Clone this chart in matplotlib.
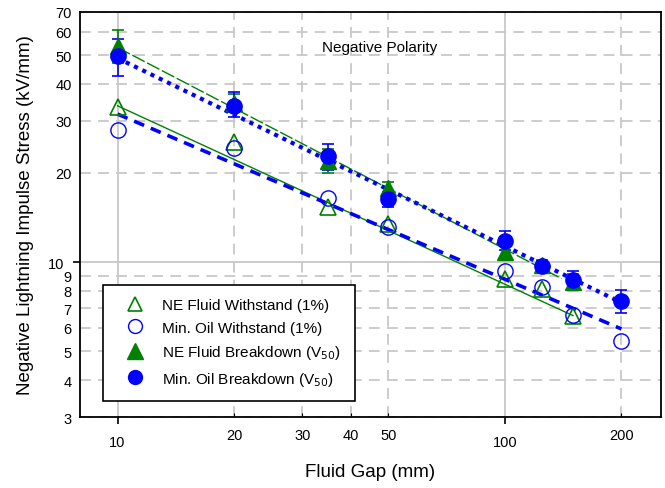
import matplotlib
matplotlib.use('Agg')
import matplotlib.pyplot as plt
from matplotlib.lines import Line2D
from matplotlib.ticker import FixedLocator, FixedFormatter

plt.rcParams['font.family'] = ['Liberation Sans', 'DejaVu Sans']

# gap values (mm)
gap_ne = [10, 20, 35, 50, 100, 125, 150]
gap_oil = [10, 20, 35, 50, 100, 125, 150, 200]

# withstand (1%) stress, kV/mm
ne_withstand = [33.5, 25.5, 15.3, 13.4, 8.8, 8.1, 6.6]
oil_withstand = [28.0, 24.3, 16.5, 13.1, 9.3, 8.25, 6.65, 5.4]

# breakdown (V50) stress with error bar ends
ne_breakdown = [53.5, 34.5, 22.0, 17.8, 10.8, 9.8, 8.6]
ne_bd_low = [47.0, 32.0, 20.0, 16.6, 10.3, 9.4, 8.1]
ne_bd_high = [60.5, 37.0, 24.0, 18.7, 11.3, 10.2, 9.1]
oil_breakdown = [49.5, 33.7, 22.8, 16.3, 11.8, 9.7, 8.7, 7.4]
oil_bd_low = [42.5, 30.8, 20.5, 15.3, 11.0, 9.3, 8.1, 6.75]
oil_bd_high = [56.5, 37.4, 25.1, 17.3, 12.7, 10.1, 9.3, 8.05]

# fitted lines, end points
fit_ne_w_x, fit_ne_w_y = [10, 150], [33.7, 6.6]
fit_oil_w_x, fit_oil_w_y = [10, 200], [31.6, 5.95]
fit_ne_b_x, fit_ne_b_y = [10, 140], [53.0, 8.8]
fit_oil_b_x, fit_oil_b_y = [10, 200], [48.8, 7.3]

xticks = [10, 20, 30, 40, 50, 100, 200]
yticks = [3, 4, 5, 6, 7, 8, 9, 10, 20, 30, 40, 50, 60, 70]

green = '#008000'
blue = '#0000ff'

fig = plt.figure(figsize=(6.65, 4.89), dpi=100)
ax = fig.add_axes([0.1203, 0.145, 0.8737, 0.829])
ax.set_xscale('log')
ax.set_yscale('log')
ax.set_xlim(8.0, 253)
ax.set_ylim(3, 70)

# grid: solid at decades, dashed elsewhere
ax.xaxis.set_major_locator(FixedLocator([10, 100]))
ax.xaxis.set_minor_locator(FixedLocator([t for t in xticks if t not in (10, 100)]))
ax.yaxis.set_major_locator(FixedLocator([10]))
ax.yaxis.set_minor_locator(FixedLocator([t for t in yticks if t != 10]))
ax.xaxis.set_major_formatter(FixedFormatter(['10', '100']))
ax.xaxis.set_minor_formatter(FixedFormatter([str(t) for t in xticks if t not in (10, 100)]))
ax.yaxis.set_major_formatter(FixedFormatter(['10']))
ax.yaxis.set_minor_formatter(FixedFormatter([str(t) for t in yticks if t != 10]))
ax.grid(True, which='major', color='#c8c8c8', lw=1.3, ls='-')
ax.grid(True, which='minor', color='#c8c8c8', lw=1.3, ls=(0, (6, 4)))
ax.set_axisbelow(True)
ax.tick_params(which='major', direction='out', length=5, width=1.2, labelsize=10.5, pad=6)
ax.tick_params(which='minor', direction='in', length=3, width=0.8, labelsize=10.5, pad=6)
ax.tick_params(axis='x', which='both', pad=8)
ax.tick_params(axis='y', which='minor', length=0)
for s in ax.spines.values():
    s.set_linewidth(1.3)

# fit lines
ax.plot(fit_ne_w_x, fit_ne_w_y, color=green, lw=1.0)
ax.plot(fit_oil_w_x, fit_oil_w_y, color=blue, lw=2.6, ls=(0, (3, 2)))
ax.plot(fit_ne_b_x, fit_ne_b_y, color=green, lw=1.0, ls=(0, (10, 2)))
ax.plot(fit_oil_b_x, fit_oil_b_y, color=blue, lw=3.0, ls=(0, (1, 1.2)))

# breakdown points with error bars
ne_err = [[v - l for v, l in zip(ne_breakdown, ne_bd_low)],
          [h - v for v, h in zip(ne_breakdown, ne_bd_high)]]
oil_err = [[v - l for v, l in zip(oil_breakdown, oil_bd_low)],
           [h - v for v, h in zip(oil_breakdown, oil_bd_high)]]
ax.errorbar(gap_ne, ne_breakdown, yerr=ne_err, fmt='^', color=green, ms=11,
            capsize=4, elinewidth=1.2, capthick=1.2)
ax.errorbar(gap_oil, oil_breakdown, yerr=oil_err, fmt='o', color=blue, ms=11,
            capsize=4, elinewidth=1.2, capthick=1.2)

# withstand points
ax.plot(gap_ne, ne_withstand, '^', ms=11, mfc='none', mec=green, mew=1.2)
ax.plot(gap_oil, oil_withstand, 'o', ms=11, mfc='none', mec=blue, mew=1.0)

ax.text(0.516, 0.912, 'Negative Polarity', transform=ax.transAxes,
        ha='center', va='center', fontsize=11)

ax.set_xlabel('Fluid Gap (mm)', fontsize=13.5, labelpad=10)
ax.set_ylabel('Negative Lightning Impulse Stress (kV/mm)', fontsize=13.5, labelpad=10)

handles = [
    Line2D([], [], ls='none', marker='^', ms=10, mfc='none', mec=green, mew=1.2),
    Line2D([], [], ls='none', marker='o', ms=10, mfc='none', mec=blue, mew=1.0),
    Line2D([], [], ls='none', marker='^', ms=11, color=green),
    Line2D([], [], ls='none', marker='o', ms=10, color=blue),
]
labels = ['NE Fluid Withstand (1%)', 'Min. Oil Withstand (1%)',
          'NE Fluid Breakdown (V$_{50}$)', 'Min. Oil Breakdown (V$_{50}$)']
leg = ax.legend(handles, labels, loc='lower left', bbox_to_anchor=(0.040, 0.039),
                borderaxespad=0, fontsize=11, frameon=True, fancybox=False,
                edgecolor='black', framealpha=1, handletextpad=0.55,
                labelspacing=0.55, borderpad=0.9, handlelength=2.4)
leg.get_frame().set_linewidth(1.2)

plt.savefig('out.png', dpi=100)
plt.close()
